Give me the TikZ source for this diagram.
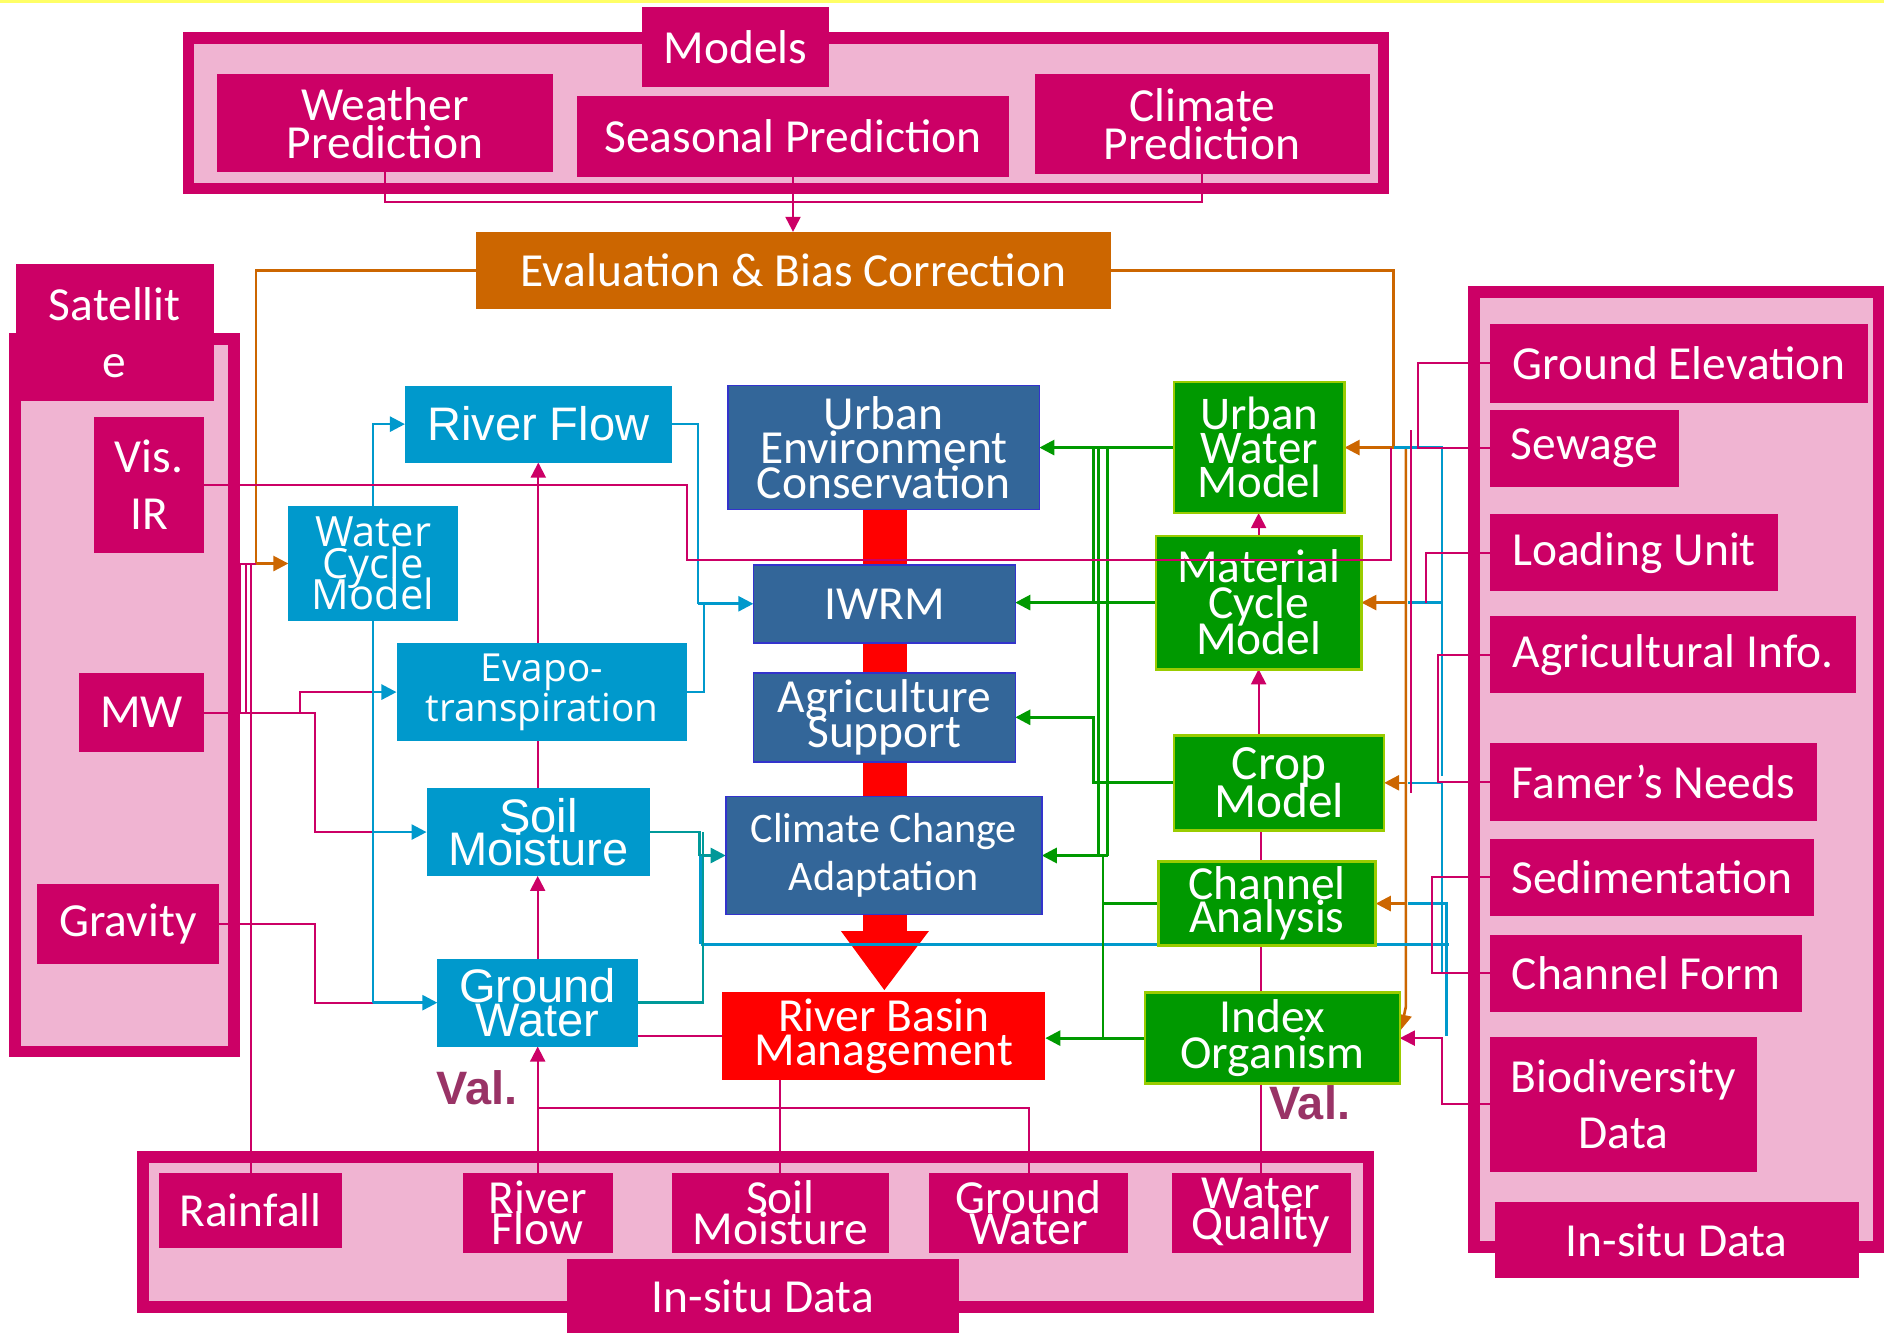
\documentclass[tikz,border=0pt]{standalone}
\usepackage{fontspec}
\setmainfont{Carlito}
\newfontfamily\arialf{Liberation Sans}
\newfontfamily\segf{Open Sans}
\usetikzlibrary{arrows.meta,calc}
\definecolor{mag}{HTML}{CC0066}
\definecolor{pinkbg}{HTML}{F0B4D2}
\definecolor{skyb}{HTML}{0099CC}
\definecolor{darkb}{HTML}{336699}
\definecolor{bordb}{HTML}{3333CC}
\definecolor{grn}{HTML}{009900}
\definecolor{ygrn}{HTML}{99CC00}
\definecolor{orng}{HTML}{CC6600}
\definecolor{valc}{HTML}{993366}
\definecolor{tealc}{HTML}{009999}
\definecolor{yel}{HTML}{FFFF66}
\newcommand\fs[2]{\fontsize{#1}{#2}\selectfont\lineskiplimit=-\maxdimen}
% style, x1, y1, x2, y2, name, text
\newcommand\bx[7]{\node[#1, minimum width={0.6pt*(#4-#2)}, minimum height={0.6pt*(#5-#3)}] (#6) at ({(#2+#4)/2},{(#3+#5)/2}) {#7};}
\pgfdeclarelayer{back}\pgfdeclarelayer{mid}\pgfdeclarelayer{front}
\pgfsetlayers{back,mid,main,front}
\begin{document}
\begin{tikzpicture}[x=0.6pt,y=-0.6pt,
  box/.style={inner sep=0pt, outer sep=0pt, align=center, text=white, font=\fs{23.7}{18}},
  mgbox/.style={box, fill=mag},
  skybox/.style={box, fill=skyb},
  dbbox/.style={box, fill=darkb, draw=bordb, line width=0.8pt},
  gnbox/.style={box, fill=grn, draw=ygrn, line width=1.3pt},
  orbox/.style={box, fill=orng},
  rdbox/.style={box, fill=red},
  grp/.style={draw=mag, fill=pinkbg, line width=5.8pt, inner sep=0pt, outer sep=0pt},
  mgl/.style={draw=mag, line width=1pt},
  orl/.style={draw=orng, line width=1.3pt},
  bll/.style={draw=skyb, line width=1.3pt},
  tll/.style={draw=tealc, line width=1.3pt},
  gnl/.style={draw=grn, line width=1.4pt},
  tip/.style={-{Triangle[length=7.5pt,width=7.5pt]}},
  vallab/.style={text=valc, font=\arialf\bfseries\fs{23.4}{24}, inner sep=0pt}]
\useasboundingbox (0,0) rectangle (1568,1109);

\begin{pgfonlayer}{back}
\fill[yel] (0,0) rectangle (1568,2.5);
\bx{grp}{157}{31.5}{1151.5}{157}{gmod}{}
\bx{grp}{12.5}{282}{195}{875}{gsat}{}
\bx{grp}{119}{963}{1139}{1088}{gbot}{}
\bx{grp}{1227}{243}{1563.5}{1038}{gright}{}
\fill[red] (718,420) rectangle (755,776);
\fill[red] (700,775) -- (773,775) -- (736,824) -- cycle;
\end{pgfonlayer}

% ---------- nodes ----------
\bx{mgbox}{534}{6}{690}{72}{models}{Models}
\bx{mgbox,font=\fs{23.7}{19}}{181}{62}{460}{143}{wp}{Weather\\Prediction}
\bx{mgbox}{480}{80}{840}{147}{sp}{Seasonal Prediction}
\bx{mgbox,font=\fs{23.7}{19}}{861}{62}{1140}{145}{cp}{Climate\\Prediction}
\bx{orbox}{396}{193}{925}{257}{ev}{Evaluation \& Bias Correction}

\bx{mgbox,font=\fs{23.7}{28.2}}{13}{220}{178}{334}{sat}{Satellit\\e}
\bx{mgbox,font=\fs{23.7}{28.8}}{78}{347}{170}{460}{vis}{Vis.\\IR}
\bx{mgbox}{66}{560}{170}{626}{mw}{MW}
\bx{mgbox}{31}{736}{182}{802}{grav}{Gravity}

\bx{skybox,font=\arialf\fs{23.5}{17}}{337}{321}{559}{385}{rf}{River Flow}
\bx{skybox,font=\segf\fs{20.8}{15.6}}{240}{421}{381}{517}{wcm}{Water\\Cycle\\Model}
\bx{skybox,font=\segf\fs{19.3}{19.8}}{330}{535}{572}{617}{evt}{Evapo-\\transpiration}
\bx{skybox,font=\arialf\fs{23.5}{16.8}}{355}{656}{541}{729}{sm}{Soil\\Moisture}
\bx{skybox,font=\arialf\fs{23.5}{16.8}}{364}{798}{531}{871}{gw}{Ground\\Water}

\bx{dbbox,font=\fs{23.7}{17.1}}{606}{321}{865}{424}{uec}{Urban\\Environment\\Conservation}
\bx{dbbox}{627}{470}{845}{535}{iwrm}{IWRM}
\bx{dbbox,font=\fs{23.7}{17.4}}{627}{560}{845}{634}{as}{Agriculture\\Support}
\bx{dbbox,font=\fs{21}{24}}{604}{663}{867}{761}{cca}{Climate Change\\Adaptation}
\bx{rdbox,font=\fs{23.7}{16.8}}{601}{826}{870}{899}{rbm}{River Basin\\Management}

\bx{gnbox,font=\fs{23.4}{17.1}}{977}{318}{1119}{427}{uwm}{Urban\\Water\\Model}
\bx{gnbox,font=\fs{23.7}{18}}{962}{446}{1133}{557}{mcm}{Material\\Cycle\\Model}
\bx{gnbox,font=\fs{24.6}{18.6}}{977}{612}{1152}{691}{crop}{Crop\\Model}
\bx{gnbox,font=\fs{23.7}{16.2}}{964}{717}{1145}{787}{ca}{Channel\\Analysis}
\bx{gnbox,font=\fs{23.7}{18}}{953}{826}{1165}{902}{io}{Index\\Organism}

\bx{mgbox}{1240}{270}{1555}{335}{ge}{Ground Elevation}
\bx{mgbox}{1240}{341}{1397}{405}{sew}{Sewage}
\bx{mgbox}{1240}{428}{1480}{492}{lu}{Loading Unit}
\bx{mgbox}{1240}{513}{1545}{577}{ai}{Agricultural Info.}
\bx{mgbox}{1240}{618}{1512}{683}{fn}{Famer’s Needs}
\bx{mgbox}{1240}{698}{1510}{762}{sed}{Sedimentation}
\bx{mgbox}{1240}{778}{1500}{842}{cf}{Channel Form}
\bx{mgbox,font=\fs{23.7}{27.6}}{1240}{863}{1462}{975}{bd}{Biodiversity\\Data}
\bx{mgbox}{1244}{1000}{1547}{1064}{ins2}{In-situ Data}

\bx{mgbox}{132}{976}{285}{1039}{rain}{Rainfall}
\bx{mgbox,font=\fs{23.7}{15.6}}{385}{976}{510}{1043}{brf}{River\\Flow}
\bx{mgbox,font=\fs{23.7}{15.6}}{559}{976}{740}{1043}{bsm}{Soil\\Moisture}
\bx{mgbox,font=\fs{23.7}{15.6}}{773}{976}{939}{1043}{bgw}{Ground\\Water}
\bx{mgbox,font=\fs{23.7}{15.6}}{975}{976}{1124}{1043}{bwq}{Water\\Quality}
\bx{mgbox}{472}{1048}{798}{1109}{ins1}{In-situ Data}

\node[vallab] (val1) at (397,905) {Val.};
\node[vallab] (val2) at (1090,918) {Val.};

% ---------- connectors ----------
\begin{pgfonlayer}{mid}
% models
\draw[mgl] (wp.south) |- (660,168) -| (cp.south);
\draw[mgl,tip] (sp.south) -- (sp.south |- ev.north);
% orange
\draw[orl,tip] (ev.west) -| (213,469) -- (wcm.west);
\draw[orl,tip] (ev.east) -| (1160,372.5) -- (uwm.east);
\draw[orl,tip] (1170,372.5) -- (1170,838) -- (1166,857);
\draw[orl,tip] (1170,501.5) -- (mcm.east);
\draw[orl,tip] (1170,651.5) -- (crop.east);
\draw[orl,tip] (1170,752) -- (ca.east);
% blue right
\draw[bll] (1160,372.5) -- (1200,372.5) -- (1200,646);
\draw[bll] (1172,501.5) -- (1200,501.5);
\draw[bll] (1172,651.5) -- (1200,651.5) -- (1200,810);
\draw[bll] (1172,752) -- (1204,752) -- (1204,862);
\draw[bll] (583,786) -- (1206,786);
% magenta right
\draw[mgl] (ge.west) -| (1180,373) -- (sew.west);
\draw[mgl] (lu.west) -| (1187,501.5);
\draw[mgl] (ai.west) -| (1197,651.5);
\draw[mgl] (fn.west) -- (1197,650.5);
\draw[mgl] (sed.west) -| (1192,810) -- (cf.west);
\draw[mgl,tip] (bd.west) -| (1200,864) -- (io.east);
\draw[mgl] (1174,358) -- (1174,660);
% satellite inputs
\draw[mgl] (mw.east) -| (262,692.5) -- (311,692.5);
\draw[mgl] (250,593) |- (311,576);
\draw[mgl] (grav.east) -| (262,834.5) -- (311,834.5);
\draw[mgl] (rain.north) |- (213,469);
\draw[mgl] (200,593) |- (208.5,469);
\draw[mgl] (204.5,469) -- (204.5,593);
% blue column
\draw[bll,tip] (wcm.north) |- (rf.west);
\draw[bll] (wcm.south) -- (310.5,834.5);
\draw[bll,tip] (310.5,576) -- (evt.west);
\draw[bll,tip] (310.5,692.5) -- (sm.west);
\draw[bll,tip] (310.5,834.5) -- (gw.west);
\draw[bll] (rf.east) -| (581,503);
\draw[bll] (evt.east) -| (586,503);
\draw[bll,tip] (581,502.5) -- (iwrm.west);
\draw[tll] (sm.east) -| (582,712);
\draw[tll] (gw.east) -| (585,692.5);
\draw[tll,tip] (582,712) -- (cca.west);
\draw[bll] (583,712) -- (583,786);
% magenta column
\draw[mgl,tip] (rf.south |- evt.north) -- (rf.south);
\draw[mgl] (sm.north) -- (sm.north |- evt.south);
\draw[mgl,tip] (gw.north) -- (gw.north |- sm.south);
\draw[mgl,tip] (brf.north) -- (brf.north |- gw.south);
\draw[mgl] (bgw.north) |- (448,922);
\draw[mgl] (bsm.north) -- (bsm.north |- rbm.south);
\draw[mgl] (rbm.west -| gw.east) -- (rbm.west);
\draw[mgl,tip] (mcm.north) -- (mcm.north |- uwm.south);
\draw[mgl,tip] (mcm.south |- crop.north) -- (mcm.south);
\draw[mgl] (bwq.north) -- (bwq.north |- crop.south);
% green
\draw[gnl,tip] (uwm.west) -- (uwm.west -| uec.east);
\draw[gnl,tip] (mcm.west) -- (mcm.west -| iwrm.east);
\draw[gnl,tip] (crop.west) -| (910,597) -- (as.east);
\draw[gnl] (910,372.5) -- (910,501.5);
\draw[gnl] (914,372.5) -- (914,712);
\draw[gnl] (922,372.5) -- (922,712);
\draw[gnl,tip] (922,712) -- (cca.east);
\draw[gnl] (918,712) -- (918,864);
\draw[gnl] (ca.west) -- (918,752);
\draw[gnl,tip] (io.west) -- (io.west -| rbm.east);
\end{pgfonlayer}

\begin{pgfonlayer}{front}
\draw[mgl] (vis.east) -| (572,466) -| (1158,372.5);
\end{pgfonlayer}
\end{tikzpicture}
\end{document}
